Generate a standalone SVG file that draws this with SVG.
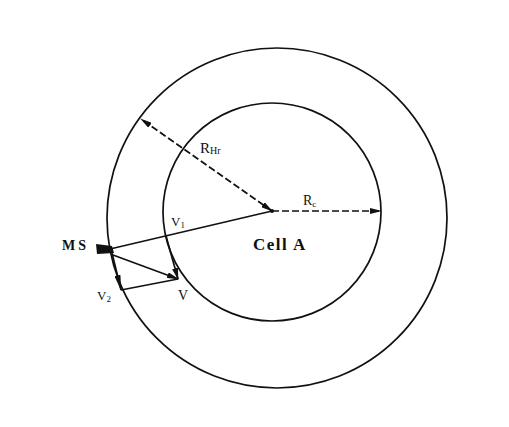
<svg xmlns="http://www.w3.org/2000/svg" width="509" height="427" viewBox="0 0 509 427">
<defs>
<style>
.ln{stroke:#111;stroke-width:1.7;fill:none}
.ds{stroke:#111;stroke-width:1.7;fill:none;stroke-dasharray:7 3}
.t{font-family:"Liberation Serif","Times New Roman",serif;fill:#111}
.b{font-weight:bold}
</style>
<marker id="ah" viewBox="0 0 12 6" refX="11" refY="3" markerWidth="12" markerHeight="6" markerUnits="userSpaceOnUse" orient="auto-start-reverse">
<path d="M0,0 L12,3 L0,6 Z" fill="#111"/>
</marker>
<marker id="al" viewBox="0 0 16 6" refX="15" refY="3" markerWidth="16" markerHeight="6" markerUnits="userSpaceOnUse" orient="auto">
<path d="M0,0 L16,3 L0,6 Z" fill="#111"/>
</marker>
</defs>
<rect width="509" height="427" fill="#fff"/>
<g id="outer-circle"><circle class="ln" cx="277" cy="218" r="170"/></g>
<g id="cell-a"><circle class="ln" cx="272" cy="212" r="109"/>
<text class="t b" x="253" y="250" font-size="17" letter-spacing="1.5">Cell A</text></g>
<g id="ms"><polygon points="96,244 112,246 114,253 97,254" fill="#111"/>
<text class="t b" x="62" y="250" font-size="14" letter-spacing="3">MS</text></g>
<g id="connectors">
<line class="ds" x1="272" y1="211" x2="141" y2="119" marker-start="url(#ah)" marker-end="url(#ah)"/>
<line class="ds" x1="272" y1="211" x2="381" y2="211" marker-end="url(#ah)"/>
<circle cx="272" cy="211" r="2" fill="#111"/>
<line class="ln" x1="110" y1="249" x2="272" y2="211"/>
<line class="ln" x1="112" y1="253" x2="121" y2="290" marker-end="url(#al)"/>
<line class="ln" x1="113" y1="255" x2="178" y2="279" marker-end="url(#ah)"/>
<line class="ln" x1="166" y1="236" x2="178" y2="279" marker-end="url(#ah)"/>
<line class="ln" x1="121" y1="290" x2="178" y2="279"/>
</g>
<g id="labels">
<text class="t" x="200" y="153" font-size="15">R<tspan font-size="10" dy="1">Hr</tspan></text>
<text class="t" x="303" y="205" font-size="14">R<tspan font-size="9" dy="2">c</tspan></text>
<text class="t" x="171" y="226" font-size="13">V<tspan font-size="9" dy="2">1</tspan></text>
<text class="t" x="178" y="300" font-size="14">V</text>
<text class="t" x="97" y="300" font-size="13">V<tspan font-size="9" dy="2">2</tspan></text>
</g>
</svg>
